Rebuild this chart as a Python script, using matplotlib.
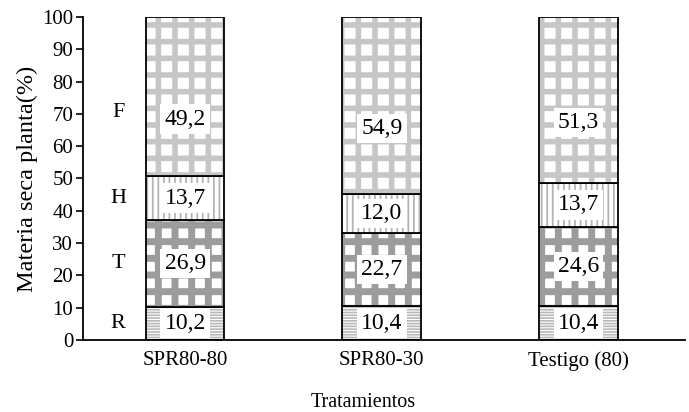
import matplotlib
matplotlib.use("Agg")
import matplotlib.pyplot as plt
import numpy as np

plt.rcParams['font.family'] = ['Liberation Serif', 'DejaVu Serif']

categories = ["SPR80-80", "SPR80-30", "Testigo (80)"]
components = ["R", "T", "H", "F"]
R = [10.2, 10.4, 10.4]
T = [26.9, 22.7, 24.6]
H = [13.7, 12.0, 13.7]
F = [49.2, 54.9, 51.3]
yticks = list(range(0, 101, 10))

series = [R, T, H, F]
hatches = ['------', '+', '|||', '+']
hcolors = ['#b8b8b8', '#9c9c9c', '#b4b4b4', '#c6c6c6']
hlws = [1.2, 5.0, 1.3, 4.0]

fig = plt.figure(figsize=(6.89, 4.12), dpi=100)
ax = fig.add_axes([0.1205, 0.1748, 0.8735, 0.7839])

x = np.arange(len(categories))
width = 0.40
bottom = np.zeros(len(categories))
for k, (vals, h, hc, hlw) in enumerate(zip(series, hatches, hcolors, hlws)):
    v = np.array(vals)
    plt.rcParams['hatch.linewidth'] = hlw
    bars = ax.bar(x, v, width, bottom=bottom, color='white', edgecolor=hc, hatch=h, linewidth=0)
    for p in bars:
        if hasattr(p, 'set_hatch_linewidth'):
            p.set_hatch_linewidth(hlw)
    ax.bar(x, v, width, bottom=bottom, fill=False, edgecolor='black', linewidth=1.3)
    for i in range(len(categories)):
        yc = bottom[i] + v[i] / 2
        if k == 3:
            yc = bottom[i] + v[i] / 2 - 7
        ax.text(x[i], yc, f"{v[i]:.1f}".replace('.', ','), ha='center', va='center',
                fontsize=17, bbox=dict(facecolor='white', edgecolor='none', pad=3))
    bottom = bottom + v

# component letters beside first bar
b0 = 0.0
for name, vals in zip(components, series):
    yc = b0 + vals[0] / 2
    if name == 'F':
        yc = b0 + vals[0] / 2 - 5
    ax.text(x[0] - 0.34, yc, name, ha='center', va='center', fontsize=16)
    b0 += vals[0]

ax.set_xlim(-0.519, 2.541)
ax.set_ylim(0, 100)
ax.set_yticks(yticks)
ax.tick_params(axis='y', direction='out', length=5, width=1.2, labelsize=15, pad=2)
ax.tick_params(axis='x', length=0, labelsize=15, pad=8)
ax.set_xticks(x)
ax.set_xticklabels(categories)
for s in ['top', 'right']:
    ax.spines[s].set_visible(False)
for s in ['left', 'bottom']:
    ax.spines[s].set_linewidth(1.3)
ax.set_ylabel("Materia seca planta(%)", fontsize=17.5, labelpad=3)
ax.set_xlabel("Tratamientos", fontsize=14.5)
ax.xaxis.set_label_coords(0.465, -0.165)

fig.savefig("out.png", dpi=100)
